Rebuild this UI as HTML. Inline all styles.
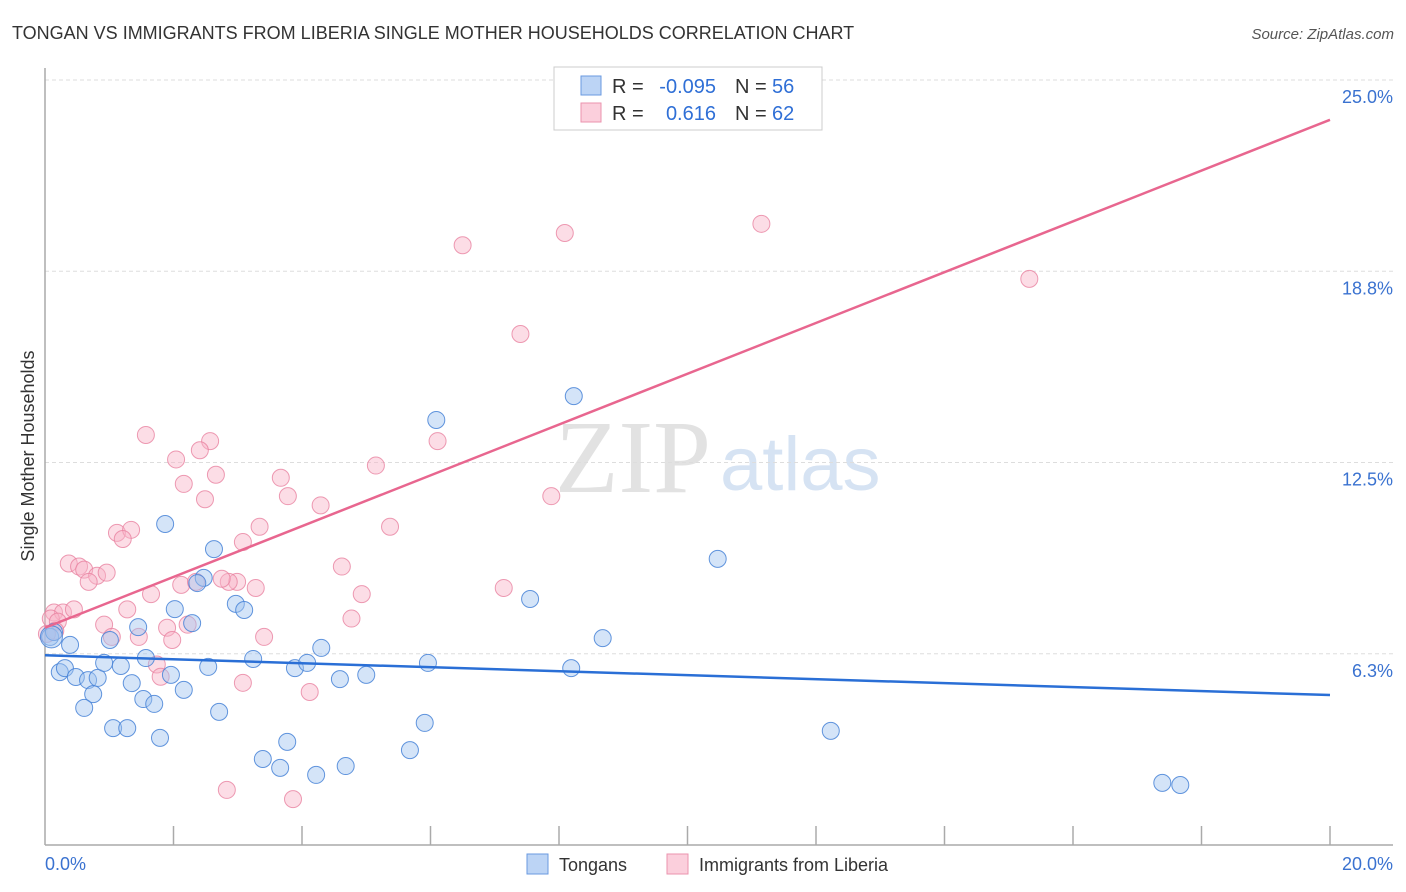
<!DOCTYPE html>
<html><head><meta charset="utf-8"><style>
body{margin:0;background:#fff;font-family:"Liberation Sans",sans-serif}
svg{display:block}
</style></head><body>
<svg id="chart" width="1406" height="892" xmlns="http://www.w3.org/2000/svg">
<text x="12" y="39" font-size="18" fill="#333">TONGAN VS IMMIGRANTS FROM LIBERIA SINGLE MOTHER HOUSEHOLDS CORRELATION CHART</text>
<text x="1394" y="39" font-size="15" fill="#555" text-anchor="end" font-style="italic">Source: ZipAtlas.com</text>
<text x="555" y="492" font-size="104" fill="#e2e2e2" font-family="Liberation Serif,serif">ZIP</text>
<text x="720" y="490" font-size="76" fill="#d6e3f3">atlas</text>
<g id="grid"></g>
<line x1="45" y1="68" x2="45" y2="845" stroke="#aaa" stroke-width="1.5"/>
<line x1="45" y1="845" x2="1393" y2="845" stroke="#aaa" stroke-width="1.5"/>
<text transform="translate(34,456) rotate(-90)" font-size="18" fill="#333" text-anchor="middle">Single Mother Households</text>
<text x="45" y="870" font-size="18" fill="#3a72d0">0.0%</text>
<text x="1393" y="870" font-size="18" fill="#3a72d0" text-anchor="end">20.0%</text>
<g id="pts"></g>
<g id="lines"></g>
<rect x="554" y="67" width="268" height="63" fill="#fff" stroke="#ccc"/>
<rect x="581" y="76" width="20" height="19" fill="#bcd4f5" stroke="#6a9ae0"/>
<rect x="581" y="103" width="20" height="19" fill="#fbcfdc" stroke="#eb93ae"/>
<g font-size="20" fill="#333">
<text x="612" y="93">R =</text><text x="716" y="93" text-anchor="end" fill="#2f6fd6">-0.095</text><text x="735" y="93">N =</text><text x="772" y="93" fill="#2f6fd6">56</text>
<text x="612" y="120">R =</text><text x="716" y="120" text-anchor="end" fill="#2f6fd6">0.616</text><text x="735" y="120">N =</text><text x="772" y="120" fill="#2f6fd6">62</text>
</g>
<rect x="527" y="854" width="21" height="20" fill="#bcd4f5" stroke="#6a9ae0"/>
<text x="559" y="871" font-size="18" fill="#333">Tongans</text>
<rect x="667" y="854" width="21" height="20" fill="#fbcfdc" stroke="#eb93ae"/>
<text x="699" y="871" font-size="18" fill="#333">Immigrants from Liberia</text>
</svg>
<script>
const yTicks=[6.25,12.5,18.75,25];
const yTickLabels=["6.3%","12.5%","18.8%","25.0%"];
const xTicks=[2,4,6,8,10,12,14,16,18,20];
const tonganX=[1.87,2.63,2.47,2.37,2.02,2.97,3.10,1.45,2.29,1.01,0.39,0.08,0.14,1.57,0.23,0.31,0.48,0.67,0.82,0.92,1.18,1.35,0.75,0.61,1.53,1.70,2.16,1.96,2.54,2.71,3.24,3.89,4.08,4.30,4.59,5.00,5.96,1.06,1.28,1.79,3.39,3.66,3.77,4.22,4.68,5.68,5.91,6.09,8.23,7.55,8.19,8.68,10.47,12.23,17.39,17.67];
const tonganY=[10.49,9.67,8.73,8.56,7.71,7.88,7.68,7.12,7.25,6.70,6.54,6.80,6.96,6.11,5.65,5.78,5.49,5.39,5.46,5.95,5.85,5.29,4.93,4.48,4.77,4.61,5.07,5.56,5.82,4.35,6.08,5.78,5.95,6.44,5.42,5.56,5.95,3.82,3.82,3.50,2.81,2.52,3.37,2.29,2.58,3.10,3.99,13.89,14.67,8.04,5.78,6.76,9.35,3.73,2.03,1.96];
const liberiaX=[6.50,8.09,11.15,15.32,7.40,1.57,2.57,2.41,2.04,6.11,5.15,2.66,2.16,3.67,3.78,2.49,4.29,7.88,3.34,5.37,1.12,1.34,1.21,3.08,0.37,0.53,0.61,0.81,0.96,0.68,1.65,4.62,2.12,2.99,2.86,3.28,2.75,2.35,7.14,4.93,1.28,0.14,0.28,0.45,0.09,0.20,0.92,1.90,2.22,4.77,1.04,1.46,1.98,3.41,1.74,1.80,3.08,4.12,2.83,3.86,0.16,0.03];
const liberiaY=[19.6,20.0,20.3,18.5,16.7,13.4,13.2,12.9,12.6,13.2,12.4,12.1,11.8,12.0,11.4,11.3,11.1,11.4,10.4,10.4,10.2,10.3,10.0,9.9,9.2,9.1,9.0,8.8,8.9,8.6,8.2,9.1,8.5,8.6,8.6,8.4,8.7,8.6,8.4,8.2,7.7,7.6,7.6,7.7,7.4,7.3,7.2,7.1,7.2,7.4,6.8,6.8,6.7,6.8,5.9,5.5,5.3,5.0,1.8,1.5,7.0,6.9];
const tonganTrend=[6.2,4.9];
const liberiaTrend=[7.1,23.7];
const X0=45,X1=1330,Y0=845;
const xs=v=>X0+(X1-X0)*v/20;
const ys=v=>Y0-(Y0-80)*v/25;
const NS="http://www.w3.org/2000/svg";
function mk(t,a,p){const e=document.createElementNS(NS,t);for(const k in a)e.setAttribute(k,a[k]);p.appendChild(e);return e;}
const grid=document.getElementById('grid');
yTicks.forEach((v,i)=>{
 const l=mk('line',{x1:X0,x2:1393,y1:ys(v),y2:ys(v),stroke:'#ddd','stroke-dasharray':'4,3'},grid);
 
 
 const t=mk('text',{x:1393,y:ys(v)+23,'font-size':18,fill:'#3a72d0','text-anchor':'end'},grid);
 t.textContent=yTickLabels[i];
 
 
});
xTicks.forEach(v=>{
 const l=mk('line',{x1:xs(v),x2:xs(v),y1:826,y2:845,stroke:'#aaa','stroke-width':1.5},grid);
 
 
});
const pts=document.getElementById('pts');
liberiaX.forEach((x,i)=>{
 const c=mk('circle',{cx:xs(x),cy:ys(liberiaY[i]),r:8.5,fill:'rgba(248,180,200,0.45)',stroke:'rgba(232,130,160,0.8)','stroke-width':1},pts);
 
 
});
tonganX.forEach((x,i)=>{
 const c=mk('circle',{cx:xs(x),cy:ys(tonganY[i]),r:8.5,fill:'rgba(160,195,240,0.45)',stroke:'rgba(70,130,215,0.85)','stroke-width':1},pts);
 
 
});
const big=mk('circle',{cx:xs(0.1),cy:ys(6.8),r:11,fill:'rgba(160,195,240,0.5)',stroke:'rgba(70,130,215,0.85)'},pts);


const lines=document.getElementById('lines');
const bl=mk('line',{x1:xs(0),y1:ys(tonganTrend[0]),x2:xs(20),y2:ys(tonganTrend[1]),stroke:'#2a6fd6','stroke-width':2.5},lines);


const pl=mk('line',{x1:xs(0),y1:ys(liberiaTrend[0]),x2:xs(20),y2:ys(liberiaTrend[1]),stroke:'#e8668f','stroke-width':2.5},lines);


</script>
</body></html>
